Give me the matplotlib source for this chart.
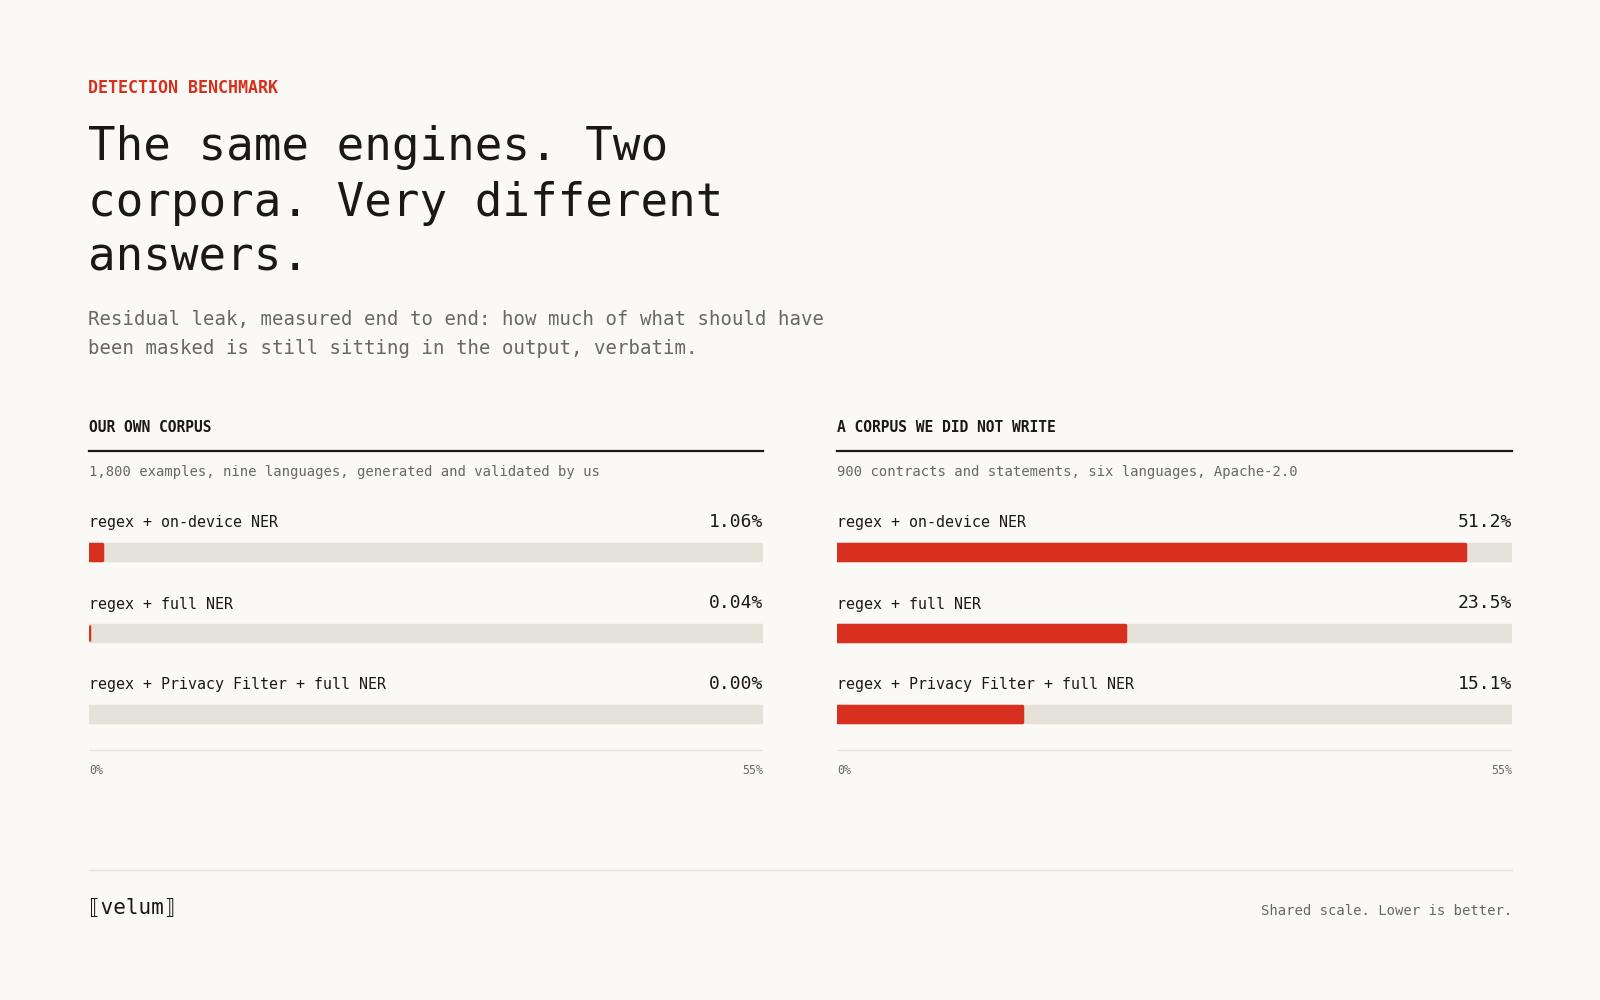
#!/usr/bin/env python
# -*- coding: utf-8 -*-

import matplotlib
matplotlib.use("Agg")
from matplotlib import pyplot as plt

# data
engines = ["regex + on-device NER", "regex + full NER", "regex + Privacy Filter + full NER"]
own_leak = [1.06, 0.04, 0.00]
ext_leak = [51.2, 23.5, 15.1]
own_labels = ["1.06%", "0.04%", "0.00%"]
ext_labels = ["51.2%", "23.5%", "15.1%"]
scale_max = 55
scale_ticks = ["0%", "55%"]

panel_titles = ["OUR OWN CORPUS", "A CORPUS WE DID NOT WRITE"]
panel_notes = ["1,800 examples, nine languages, generated and validated by us",
               "900 contracts and statements, six languages, Apache-2.0"]

W, H = 1600, 1000
BG = "#faf9f5"
INK = "#1a1917"
GREY = "#6b6762"
RED = "#d7301f"
TRACK = "#e5e2da"
RULE = "#e6e3dc"
MONO = ["DejaVu Sans Mono", "DejaVu Sans"]

plt.rcParams["font.family"] = MONO


def fx(x):
    return x / W


def fy(y):
    return 1 - y / H


fig = plt.figure(figsize=(16, 10), dpi=100)
fig.patch.set_facecolor(BG)

# header block
fig.text(fx(88), fy(88), "DETECTION BENCHMARK", color=RED, fontsize=12, weight="semibold",
         va="center", ha="left")
for i, line in enumerate(["The same engines. Two", "corpora. Very different", "answers."]):
    fig.text(fx(88), fy(148 + 55 * i), line, color=INK, fontsize=33, va="center", ha="left")
for i, line in enumerate(["Residual leak, measured end to end: how much of what should have",
                          "been masked is still sitting in the output, verbatim."]):
    fig.text(fx(88), fy(319 + 30 * i), line, color=GREY, fontsize=13.7, va="center", ha="left")

panels = [(89, 763, own_leak, own_labels), (837, 1512, ext_leak, ext_labels)]
y_top, y_bot = 490, 790
row0, row_gap = 552, 81

for k, (x0, x1, vals, labs) in enumerate(panels):
    fig.text(fx(x0), fy(428), panel_titles[k], color=INK, fontsize=10.5, weight="semibold",
             va="center", ha="left")
    fig.add_artist(plt.Line2D([fx(x0), fx(x1)], [fy(451), fy(451)], color=INK, lw=1.6))
    fig.text(fx(x0), fy(472), panel_notes[k], color=GREY, fontsize=10, va="center", ha="left")

    ax = fig.add_axes([fx(x0), fy(y_bot), (x1 - x0) / W, (y_bot - y_top) / H])
    ax.set_xlim(0, scale_max)
    ax.set_ylim(y_bot, y_top)
    ax.axis("off")

    ys = [row0 + row_gap * i for i in range(len(engines))]
    ax.barh(ys, [scale_max] * len(ys), height=16, color=TRACK, edgecolor=TRACK,
            linewidth=2.5, joinstyle="round", left=0)
    for y, v in zip(ys, vals):
        if v <= 0:
            continue
        ax.barh([y], [v], height=16, color=RED, edgecolor=RED,
                linewidth=2.5, joinstyle="round")

    for y, name, lab in zip(ys, engines, labs):
        ax.text(0, y - 29, name, color=INK, fontsize=10.8, va="center", ha="left")
        ax.text(scale_max, y - 30, lab, color=INK, fontsize=13, va="center", ha="right")

    ax.plot([0, scale_max], [750, 750], color=RULE, lw=1, solid_capstyle="butt")
    ax.text(0, 770, scale_ticks[0], color=GREY, fontsize=8.4, va="center", ha="left")
    ax.text(scale_max, 770, scale_ticks[1], color=GREY, fontsize=8.4, va="center", ha="right")

# footer
fig.add_artist(plt.Line2D([fx(89), fx(1512)], [fy(870), fy(870)], color=RULE, lw=1))
fig.text(fx(88), fy(908), "\u27e6velum\u27e7", color=INK, fontsize=15, va="center", ha="left")
fig.text(fx(1512), fy(911), "Shared scale. Lower is better.", color=GREY, fontsize=10,
         va="center", ha="right")

plt.savefig("out.png", dpi=100, facecolor=BG)
